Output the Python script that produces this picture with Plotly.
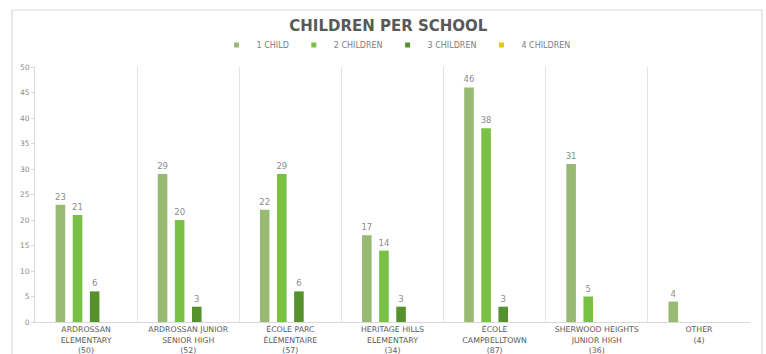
import plotly.graph_objects as go

categories = [
    "ARDROSSAN<br>ELEMENTARY<br>(50)",
    "ARDROSSAN JUNIOR<br>SENIOR HIGH<br>(52)",
    "ÉCOLE PARC<br>ÉLÉMENTAIRE<br>(57)",
    "HERITAGE HILLS<br>ELEMENTARY<br>(34)",
    "ÉCOLE<br>CAMPBELLTOWN<br>(87)",
    "SHERWOOD HEIGHTS<br>JUNIOR HIGH<br>(36)",
    "OTHER<br>(4)",
]
series_names = ["1 CHILD", "2 CHILDREN", "3 CHILDREN", "4 CHILDREN"]
one_child = [23, 29, 22, 17, 46, 31, 4]
two_children = [21, 20, 29, 14, 38, 5, None]
three_children = [6, 3, 6, 3, 3, None, None]
four_children = [None, None, None, None, None, None, None]
colors = ["#98BA72", "#78C144", "#55922E", "#E3C81B"]
y_ticks = [0, 5, 10, 15, 20, 25, 30, 35, 40, 45, 50]

FONT = "DejaVu Sans"
fig = go.Figure()
for name, vals, col in zip(series_names, [one_child, two_children, three_children, four_children], colors):
    fig.add_trace(go.Bar(
        x=categories, y=vals, name=name, marker_color=col, marker_line_width=0,
        text=[("" if v is None else str(v)) for v in vals], textposition="outside",
        textfont=dict(family=FONT, size=8.5, color="#8c8c8c"), constraintext="none",
        cliponaxis=False, showlegend=False, legendgroup=name,
    ))
for name, col in zip(series_names, colors):
    fig.add_trace(go.Scatter(
        x=[None], y=[None], mode="markers", name=name, legendgroup=name,
        marker=dict(symbol="square", size=5, color=col),
    ))

W, H = 766, 354
L, R, T, B = 35, 16, 67, 32
pw, ph = W - L - R, H - T - B

fig.update_layout(
    width=W, height=H, autosize=False,
    margin=dict(l=L, r=R, t=T, b=B, autoexpand=False),
    paper_bgcolor="white", plot_bgcolor="white",
    barmode="group", bargap=0.33, bargroupgap=0.44,
    title=dict(text="<b>CHILDREN PER SCHOOL</b>", x=0.507, xanchor="center",
               y=1 - 26 / H, yanchor="middle",
               font=dict(family=FONT, size=15, color="#595959")),
    legend=dict(orientation="h", x=0.505, xanchor="center", y=(H - B - 45) / ph, yanchor="middle",
                font=dict(family=FONT, size=8, color="#808080"), itemwidth=30,
                bgcolor="rgba(0,0,0,0)"),
    xaxis=dict(type="category", tickson="boundaries", showgrid=True, gridcolor="#e3e3e3",
               gridwidth=1, showline=True, linecolor="#d9d9d9", ticks="", automargin=False,
               ticklabelstandoff=0,
               tickfont=dict(family=FONT, size=7.8, color="#595959"), fixedrange=True),
    yaxis=dict(range=[0, 50], tickvals=y_ticks, showgrid=False, zeroline=False, automargin=False,
               showline=True, linecolor="#d9d9d9", ticks="outside", ticklen=3,
               tickcolor="#d9d9d9", tickfont=dict(family=FONT, size=7.5, color="#8c8c8c")),
    shapes=[dict(type="rect", xref="paper", yref="paper",
                 x0=(12 - L) / pw, x1=(762 - L) / pw,
                 y0=-0.3, y1=(H - B - 10) / ph,
                 line=dict(color="#d9d9d9", width=1.2), fillcolor="rgba(0,0,0,0)", layer="below")],
)
fig.write_html("out.html")
